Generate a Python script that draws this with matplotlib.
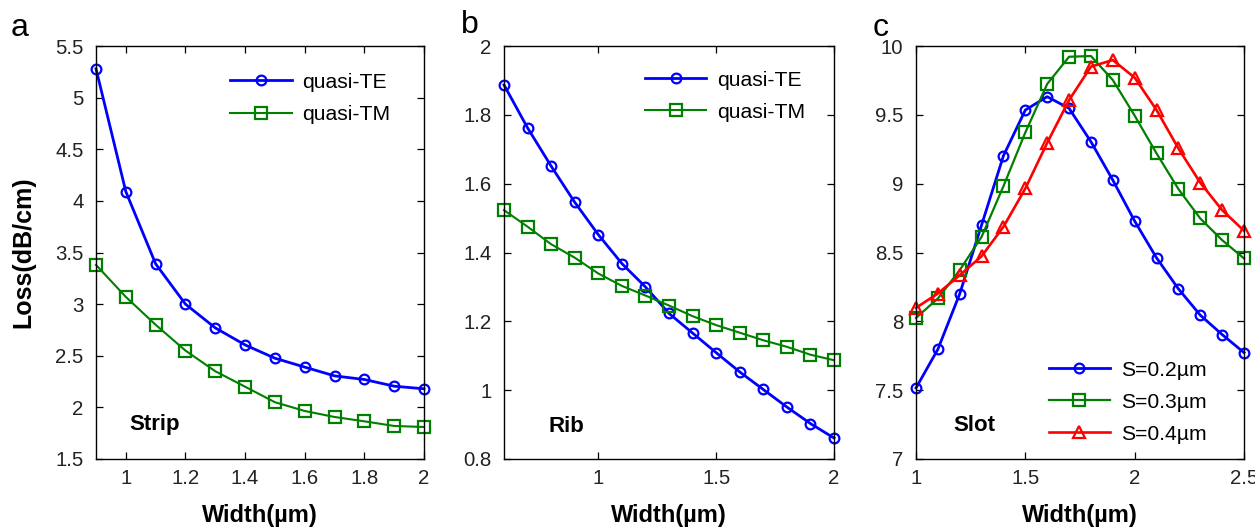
import numpy as np
import matplotlib
matplotlib.use('Agg')
import matplotlib.pyplot as plt
from matplotlib.ticker import FuncFormatter

plt.rcParams['font.family'] = ['Liberation Sans', 'DejaVu Sans']

# panel a: strip waveguide
strip_w = [0.9, 1.0, 1.1, 1.2, 1.3, 1.4, 1.5, 1.6, 1.7, 1.8, 1.9, 2.0]
strip_te = [5.28, 4.09, 3.39, 3.00, 2.77, 2.605, 2.476, 2.39, 2.305, 2.27, 2.205, 2.18]
strip_tm = [3.38, 3.07, 2.80, 2.55, 2.35, 2.20, 2.05, 1.965, 1.907, 1.865, 1.82, 1.81]

# panel b: rib waveguide
rib_w = [0.6, 0.7, 0.8, 0.9, 1.0, 1.1, 1.2, 1.3, 1.4, 1.5, 1.6, 1.7, 1.8, 1.9, 2.0]
rib_te = [1.887, 1.762, 1.651, 1.546, 1.452, 1.368, 1.300, 1.223, 1.166, 1.109,
          1.053, 1.002, 0.951, 0.903, 0.861]
rib_tm = [1.523, 1.475, 1.424, 1.385, 1.339, 1.303, 1.275, 1.246, 1.215, 1.189,
          1.167, 1.145, 1.126, 1.103, 1.087]

# panel c: slot waveguide
slot_w = [1.0, 1.1, 1.2, 1.3, 1.4, 1.5, 1.6, 1.7, 1.8, 1.9, 2.0, 2.1, 2.2, 2.3, 2.4, 2.5]
slot_s02 = [7.516, 7.797, 8.20, 8.70, 9.203, 9.535, 9.632, 9.547, 9.305, 9.026,
            8.728, 8.461, 8.236, 8.045, 7.904, 7.773]
slot_s03 = [8.025, 8.166, 8.372, 8.614, 8.982, 9.372, 9.724, 9.922, 9.927, 9.753,
            9.494, 9.22, 8.961, 8.747, 8.59, 8.457]
slot_s04 = [8.098, 8.202, 8.335, 8.473, 8.687, 8.965, 9.297, 9.607, 9.85, 9.898,
            9.77, 9.535, 9.256, 9.007, 8.808, 8.658]

blue = '#0000ff'
green = '#007f00'
red = '#ff0000'

fig = plt.figure(figsize=(12.55, 5.32), dpi=100)

boxes = [(96, 328), (504, 330), (916, 328)]
axes = []
for left, w in boxes:
    ax = fig.add_axes([left / 1255, 1 - 459 / 532, w / 1255, 413 / 532])
    axes.append(ax)


def style(ax, xlim, xticks, ylim, yticks):
    ax.set_xlim(*xlim)
    ax.set_ylim(*ylim)
    ax.set_xticks(xticks)
    ax.set_yticks(yticks)
    fmt = FuncFormatter(lambda v, p: '%g' % round(v, 3))
    ax.xaxis.set_major_formatter(fmt)
    ax.yaxis.set_major_formatter(fmt)
    ax.tick_params(direction='in', top=True, right=True, length=5, width=0.9,
                   labelsize=14.7, labelcolor='#222222')
    ax.tick_params(axis='x', pad=7)
    ax.tick_params(axis='y', pad=9)
    for s in ax.spines.values():
        s.set_linewidth(1.0)
    # the last x tick label of panel c runs off the right edge, as in the source figure
    ax.set_xlabel('Width(\u00b5m)', fontsize=17, fontweight='bold', labelpad=12)


def leg(ax, x, y):
    ax.legend(loc='upper left', bbox_to_anchor=(x, y), frameon=False, fontsize=15.2,
              handlelength=2.9, handletextpad=0.5, borderpad=0, borderaxespad=0,
              labelspacing=0.62, numpoints=1)


common = dict(mfc='none', clip_on=False)

ax = axes[0]
ax.plot(strip_w, strip_te, '-o', color=blue, lw=2.0, ms=7, mew=1.6, label='quasi-TE', **common)
ax.plot(strip_w, strip_tm, '-s', color=green, lw=1.5, ms=8.5, mew=1.6, label='quasi-TM', **common)
style(ax, (0.9, 2.0), [1, 1.2, 1.4, 1.6, 1.8, 2], (1.5, 5.5), np.arange(1.5, 5.51, 0.5))
ax.set_ylabel('Loss(dB/cm)', fontsize=18, fontweight='bold', labelpad=14)
leg(ax, 0.41, 0.935)
ax.text(0.18, 0.083, 'Strip', transform=ax.transAxes, fontsize=16, fontweight='bold',
        ha='center', va='center')

ax = axes[1]
ax.plot(rib_w, rib_te, '-o', color=blue, lw=2.0, ms=7, mew=1.6, label='quasi-TE', **common)
ax.plot(rib_w, rib_tm, '-s', color=green, lw=1.5, ms=8.5, mew=1.6, label='quasi-TM', **common)
style(ax, (0.6, 2.0), [1, 1.5, 2], (0.8, 2.0), np.arange(0.8, 2.01, 0.2))
leg(ax, 0.427, 0.94)
ax.text(0.19, 0.078, 'Rib', transform=ax.transAxes, fontsize=16, fontweight='bold',
        ha='center', va='center')

ax = axes[2]
ax.plot(slot_w, slot_s02, '-o', color=blue, lw=2.0, ms=7, mew=1.6, label='S=0.2\u00b5m', **common)
ax.plot(slot_w, slot_s03, '-s', color=green, lw=1.6, ms=8.5, mew=1.6, label='S=0.3\u00b5m', **common)
ax.plot(slot_w, slot_s04, '-^', color=red, lw=1.9, ms=9, mew=1.6, label='S=0.4\u00b5m', **common)
style(ax, (1.0, 2.5), [1, 1.5, 2, 2.5], (7, 10), np.arange(7, 10.01, 0.5))
leg(ax, 0.405, 0.238)
ax.text(0.177, 0.08, 'Slot', transform=ax.transAxes, fontsize=16, fontweight='bold',
        ha='center', va='center')

for lab, x, y in [('a', 20, 28), ('b', 470, 25), ('c', 881, 28)]:
    fig.text(x / 1255, 1 - y / 532, lab, fontsize=23, ha='center', va='center')

fig.savefig('out.png', dpi=100)
